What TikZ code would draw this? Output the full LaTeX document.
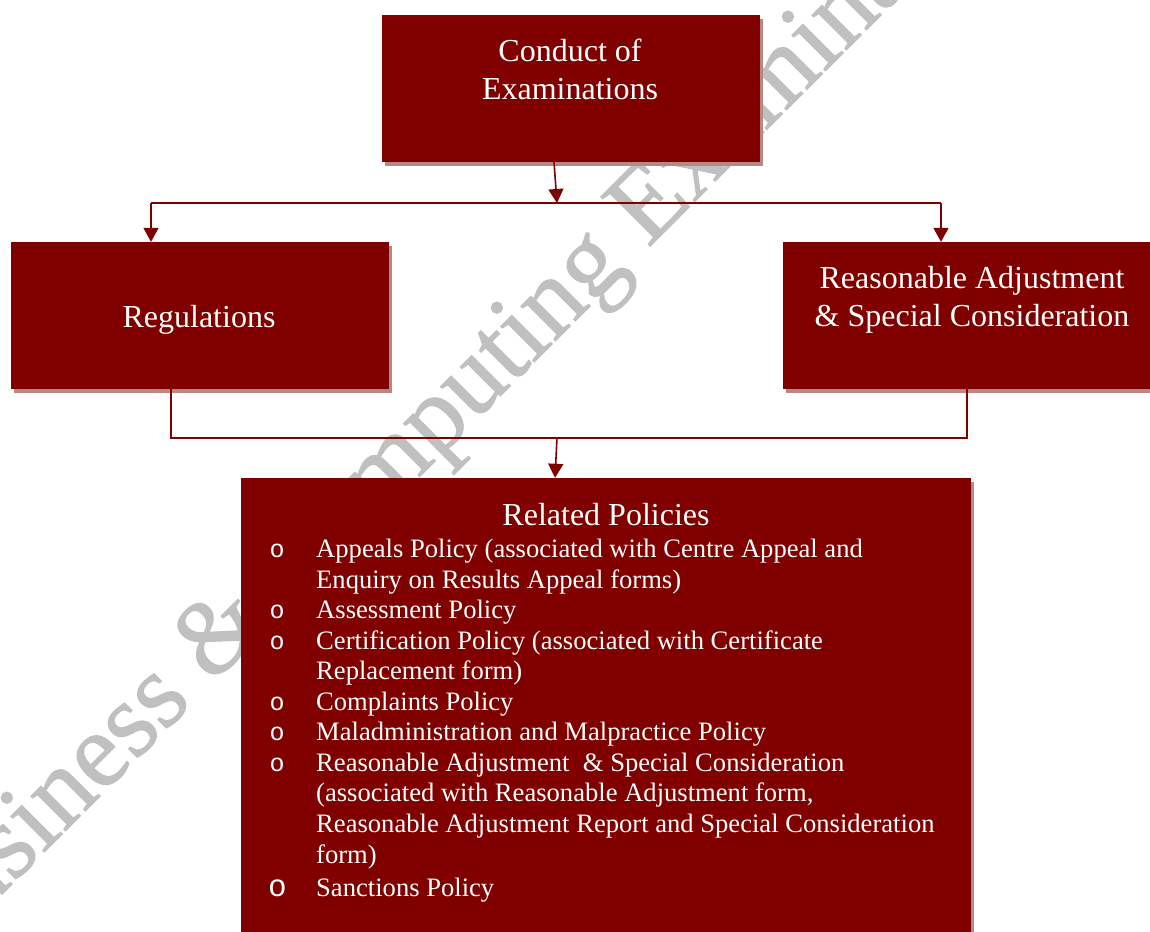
\documentclass[tikz,border=0pt]{standalone}
\usepackage{fontspec}
\setmainfont{Liberation Serif}
\newfontfamily\bulletfont{Liberation Mono}
\newfontfamily\wmfont[FakeBold=1]{Liberation Serif}
\usetikzlibrary{arrows.meta,calc}
\definecolor{boxred}{RGB}{128,0,0}
\definecolor{shadowcol}{RGB}{181,136,136}
\definecolor{wmark}{RGB}{192,192,192}
\begin{document}
\begin{tikzpicture}[x=1pt,y=-1pt,
  box/.style={rectangle, fill=boxred, draw=none, inner sep=0pt,
    minimum width=378pt, minimum height=147pt,
    preaction={fill=shadowcol, transform canvas={xshift=3pt,yshift=-4pt}}},
  boxtitle/.style={text=white, font=\fontsize{32}{38}\selectfont, inner sep=0pt, anchor=base},
  listitem/.style={text=white, font=\fontsize{26.6}{30.5}\selectfont, inner sep=0pt, anchor=base west},
  bul/.style={text=white, font=\bulletfont\fontsize{25}{27}\selectfont, inner sep=0pt, anchor=base},
  conn/.style={draw=boxred, line width=1.6pt},
  arr/.style={conn, -{Triangle[length=14pt,width=15pt]}},
  wm/.style={text=wmark, font=\wmfont\fontsize{106.6}{110}\selectfont, inner sep=0pt, anchor=base west, rotate=45}]
\useasboundingbox (0,0) rectangle (1150,931);
\clip (0,0) rectangle (1150,931);
% watermark
\node[wm] (wmk) at (-74.6,971) {Business \& Computing Examinations};
% boxes
\node[box] (conduct) at (571,88.5) {};
\node[box] (regs) at (200,315.5) {};
\node[box] (rasc) at (972,315.5) {};
\node[box, minimum width=730pt, minimum height=470pt] (related) at (606,713) {};
% box texts
\node[boxtitle] (t1) at (570,62) {Conduct of};
\node[boxtitle] (t2) at (570,99.5) {Examinations};
\node[boxtitle] (t3) at (199,327) {Regulations};
\node[boxtitle] (t4) at (972,288.5) {Reasonable Adjustment};
\node[boxtitle] (t5) at (972,326) {\& Special Consideration};
\node[boxtitle] (t6) at (606,525) {Related Policies};
% list
\node[bul] (b1) at (277,557.5) {o};
\node[listitem] (l1) at (316,557.5) {Appeals Policy (associated with Centre Appeal and};
\node[listitem] (l2) at (316,588.05) {Enquiry on Results Appeal forms)};
\node[bul] (b2) at (277,618.6) {o};
\node[listitem] (l3) at (316,618.6) {Assessment Policy};
\node[bul] (b3) at (277,649.15) {o};
\node[listitem] (l4) at (316,649.15) {Certification Policy (associated with Certificate};
\node[listitem] (l5) at (316,679.7) {Replacement form)};
\node[bul] (b4) at (277,710.25) {o};
\node[listitem] (l6) at (316,710.25) {Complaints Policy};
\node[bul] (b5) at (277,740.8) {o};
\node[listitem] (l7) at (316,740.8) {Maladministration and Malpractice Policy};
\node[bul] (b6) at (277,771.35) {o};
\node[listitem] (l8) at (316,771.35) {Reasonable Adjustment\ \ \& Special Consideration};
\node[listitem] (l9) at (316,801.9) {(associated with Reasonable Adjustment form,};
\node[listitem] (l10) at (316,832.45) {Reasonable Adjustment Report and Special Consideration};
\node[listitem] (l11) at (316,863) {form)};
\node[bul, font=\bulletfont\fontsize{31}{33}\selectfont] (b7) at (277.5,896) {o};
\node[listitem] (l12) at (316,896) {Sanctions Policy};
% connectors
\coordinate (jc) at (557,203);
\coordinate (jl) at (151,203);
\coordinate (jr) at (941,203);
\draw[arr] ($(conduct.south)+(-17,0)$) -- (jc);
\draw[conn] (jl) -- (jr);
\draw[arr] (jl) -- (jl |- regs.north);
\draw[arr] (jr) -- (jr |- rasc.north);
\coordinate (bl) at (171,438);
\coordinate (br) at (967,438);
\coordinate (jb) at (557,438);
\draw[conn] (regs.south -| bl) -- (bl) -- (br) -- (rasc.south -| br);
\draw[arr] (jb) -- ($(related.north)+(-51,0)$);
\end{tikzpicture}
\end{document}
